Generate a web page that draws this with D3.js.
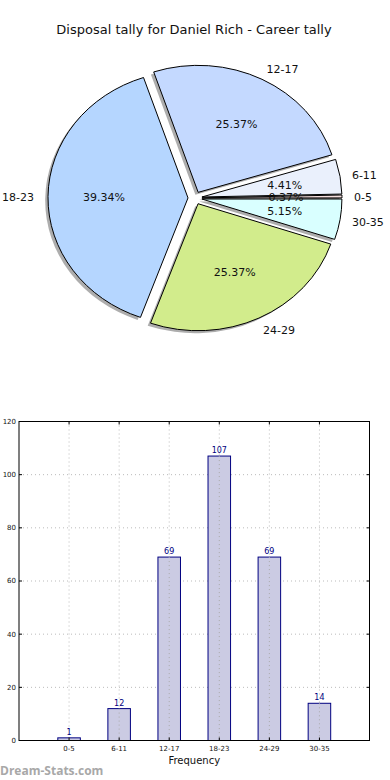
<!DOCTYPE html>
<html lang="en">
  <head>
    <meta charset="utf-8">
    <script src="https://cdn.jsdelivr.net/npm/d3@7/dist/d3.min.js"></script>
    <style>
      body { margin: 0; background: #fff; }
      svg { display: block; font-family: "DejaVu Sans", sans-serif; }
    </style>
  </head>
  <body>
    <svg id="chart"></svg>
  </body>
  <script>
    // data
    var categories = ["0-5", "6-11", "12-17", "18-23", "24-29", "30-35"];
    var counts = [1, 12, 69, 107, 69, 14];
    var sliceColors = ["#f4dede", "#eaf0fc", "#c4d9ff", "#b5d6ff", "#d2ec8c", "#d9ffff"];
    var yTicks = [0, 20, 40, 60, 80, 100, 120];
    var title = "Disposal tally for Daniel Rich - Career tally";

    var width = 390, height = 780;
    var svg = d3.select("#chart").attr("width", width).attr("height", height);

    svg.append("text")
      .attr("x", 194).attr("y", 34)
      .attr("text-anchor", "middle")
      .attr("font-size", 13)
      .attr("fill", "#111")
      .text(title);

    // ---- pie (elliptical, exploded, with shadow) ----
    var cx = 195, cy = 198, rx = 140, ry = 127, explode = 0.05;
    var total = d3.sum(counts);

    // counter-clockwise from east, like matplotlib
    var pie = d3.pie().sort(null).startAngle(Math.PI / 2).endAngle(Math.PI / 2 - 2 * Math.PI);
    var arcs = pie(counts);
    var arc = d3.arc().innerRadius(0).outerRadius(rx);

    var pieG = svg.append("g");

    function offset(d, k) {
      var mid = (d.startAngle + d.endAngle) / 2;
      return [Math.sin(mid) * k * rx, -Math.cos(mid) * k * ry];
    }

    // shadows first
    arcs.forEach(function(d) {
      var o = offset(d, explode);
      pieG.append("path")
        .attr("d", arc(d))
        .attr("transform", "translate(" + (cx + o[0] - 2.8) + "," + (cy + o[1] + 2.5) + ") scale(1," + (ry / rx) + ")")
        .attr("fill", "#777")
        .attr("fill-opacity", 0.6)
        .attr("stroke", "none");
    });

    arcs.forEach(function(d, i) {
      var o = offset(d, explode);
      pieG.append("path")
        .attr("d", arc(d))
        .attr("transform", "translate(" + (cx + o[0]) + "," + (cy + o[1]) + ") scale(1," + (ry / rx) + ")")
        .attr("fill", sliceColors[i])
        .attr("stroke", "#000")
        .attr("stroke-width", 1)
        .attr("vector-effect", "non-scaling-stroke");
    });

    arcs.forEach(function(d, i) {
      var o = offset(d, explode);
      var mid = (d.startAngle + d.endAngle) / 2;
      var px = cx + o[0] + Math.sin(mid) * 0.6 * rx;
      var py = cy + o[1] - Math.cos(mid) * 0.6 * ry;
      pieG.append("text")
        .attr("x", px).attr("y", py)
        .attr("dy", "0.35em")
        .attr("text-anchor", "middle")
        .attr("font-size", 11)
        .attr("fill", "#111")
        .text((counts[i] / total * 100).toFixed(2) + "%");

      var right = Math.sin(mid) > 0;
      var lx = cx + o[0] + Math.sin(mid) * 1.1 * rx - (right ? 2 : 0);
      var ly = cy + o[1] - Math.cos(mid) * 1.1 * ry + 1;
      pieG.append("text")
        .attr("x", lx).attr("y", ly)
        .attr("dy", "0.35em")
        .attr("text-anchor", right ? "start" : "end")
        .attr("font-size", 11)
        .attr("fill", "#111")
        .text(categories[i]);
    });

    // ---- bar chart ----
    var pLeft = 19, pRight = 369.5, pTop = 421.5, pBottom = 740.5;
    var x = d3.scaleLinear().domain([-1, 6]).range([pLeft, pRight]);
    var y = d3.scaleLinear().domain([0, 120]).range([pBottom, pTop]);
    var barW = 0.45;

    var barG = svg.append("g");

    // grid
    barG.selectAll("line.gy").data(yTicks).enter().append("line")
      .attr("x1", pLeft).attr("x2", pRight)
      .attr("y1", function(d) { return y(d); }).attr("y2", function(d) { return y(d); })
      .attr("stroke", "#bbb").attr("stroke-dasharray", "1,3");
    barG.selectAll("line.gx").data(categories).enter().append("line")
      .attr("x1", function(d, i) { return x(i); }).attr("x2", function(d, i) { return x(i); })
      .attr("y1", pTop).attr("y2", pBottom)
      .attr("stroke", "#bbb").attr("stroke-dasharray", "1,3");

    // bars
    barG.selectAll("rect.bar").data(counts).enter().append("rect")
      .attr("x", function(d, i) { return x(i - barW / 2); })
      .attr("width", x(barW) - x(0))
      .attr("y", function(d) { return y(d); })
      .attr("height", function(d) { return y(0) - y(d); })
      .attr("fill", "#cbcbe3")
      .attr("stroke", "#000080")
      .attr("stroke-width", 1);

    // grid lines show through the bars in the reference
    barG.selectAll("line.gx2").data(counts).enter().append("line")
      .attr("x1", function(d, i) { return x(i); }).attr("x2", function(d, i) { return x(i); })
      .attr("y1", function(d) { return y(d); }).attr("y2", pBottom)
      .attr("stroke", "#aaa").attr("stroke-dasharray", "1,3");

    // value labels
    barG.selectAll("text.val").data(counts).enter().append("text")
      .attr("x", function(d, i) { return x(i); })
      .attr("y", function(d) { return y(d) - 3; })
      .attr("text-anchor", "middle")
      .attr("font-size", 8)
      .attr("fill", "#000080")
      .text(function(d) { return d; });

    // frame
    barG.append("rect")
      .attr("x", pLeft).attr("y", pTop)
      .attr("width", pRight - pLeft).attr("height", pBottom - pTop)
      .attr("fill", "none").attr("stroke", "#000").attr("stroke-width", 1);

    // ticks (inside)
    barG.selectAll("line.ty").data(yTicks).enter().append("line")
      .attr("x1", pLeft).attr("x2", pLeft + 3)
      .attr("y1", function(d) { return y(d); }).attr("y2", function(d) { return y(d); })
      .attr("stroke", "#000");
    barG.selectAll("line.ty2").data(yTicks).enter().append("line")
      .attr("x1", pRight - 3).attr("x2", pRight)
      .attr("y1", function(d) { return y(d); }).attr("y2", function(d) { return y(d); })
      .attr("stroke", "#000");
    barG.selectAll("line.tx").data(categories).enter().append("line")
      .attr("x1", function(d, i) { return x(i); }).attr("x2", function(d, i) { return x(i); })
      .attr("y1", pBottom).attr("y2", pBottom - 3)
      .attr("stroke", "#000");
    barG.selectAll("line.tx2").data(categories).enter().append("line")
      .attr("x1", function(d, i) { return x(i); }).attr("x2", function(d, i) { return x(i); })
      .attr("y1", pTop).attr("y2", pTop + 3)
      .attr("stroke", "#000");

    // tick labels
    barG.selectAll("text.yl").data(yTicks).enter().append("text")
      .attr("x", pLeft - 3)
      .attr("y", function(d) { return y(d); })
      .attr("dy", "0.35em")
      .attr("text-anchor", "end")
      .attr("font-size", 7)
      .attr("fill", "#111")
      .text(function(d) { return d; });
    barG.selectAll("text.xl").data(categories).enter().append("text")
      .attr("x", function(d, i) { return x(i); })
      .attr("y", pBottom + 10)
      .attr("text-anchor", "middle")
      .attr("font-size", 7)
      .attr("fill", "#111")
      .text(function(d) { return d; });

    barG.append("text")
      .attr("x", (pLeft + pRight) / 2).attr("y", 764)
      .attr("text-anchor", "middle")
      .attr("font-size", 10)
      .attr("fill", "#111")
      .text("Frequency");

    svg.append("text")
      .attr("x", 0).attr("y", 775)
      .attr("font-family", "'Open Sans', sans-serif")
      .attr("font-weight", "bold")
      .attr("font-size", 12)
      .attr("fill", "#a8a8a8")
      .text("Dream-Stats.com");
  </script>
</html>
